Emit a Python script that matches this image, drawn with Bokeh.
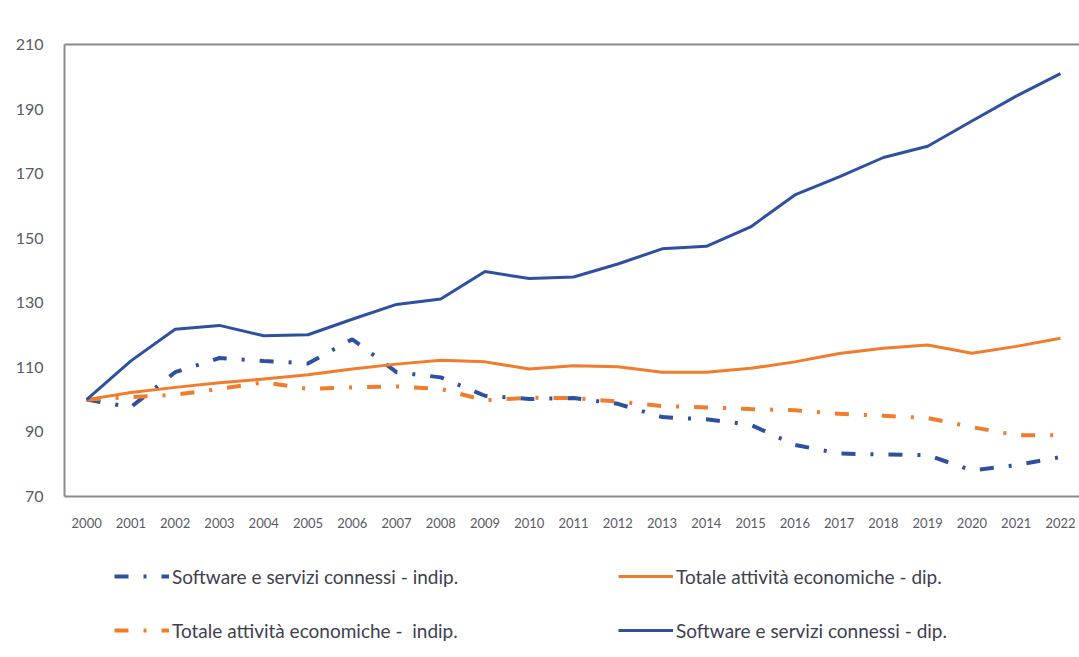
from bokeh.plotting import figure
from bokeh.models import Range1d, LinearAxis, Legend, LegendItem, FixedTicker
from bokeh.layouts import column
from bokeh.embed import file_html
from bokeh.resources import INLINE

years = list(range(2000, 2023))
sw_indip = [100, 97.7, 108.5, 112.9, 112, 111.2, 118.7, 108.5, 106.9, 101.2, 100.2, 100.5, 98.7,
            94.6, 93.9, 92.2, 86, 83.3, 83, 82.8, 78.1, 79.7, 82.2]
tot_indip = [100, 100.8, 101.5, 103.3, 105.4, 103.3, 103.8, 104.1, 103.3, 99.8, 100.6, 100.5, 99.4,
             98, 97.6, 97.1, 96.7, 95.6, 95, 94.3, 91.5, 89, 89]
tot_dip = [100, 102.2, 103.8, 105.2, 106.4, 107.7, 109.5, 111, 112.2, 111.7, 109.5, 110.5, 110.2,
           108.5, 108.5, 109.7, 111.7, 114.3, 115.9, 116.9, 114.4, 116.5, 119]
sw_dip = [100, 112, 121.8, 123, 119.8, 120.1, 124.9, 129.5, 131.2, 139.7, 137.5, 138, 142,
          146.7, 147.5, 153.5, 163.4, 169, 175, 178.5, 186.3, 194, 201]
y_ticks = [70, 90, 110, 130, 150, 170, 190, 210]
labels = ["Software e servizi connessi - indip.", "Totale attività economiche - dip.",
          "Totale attività economiche -  indip.", "Software e servizi connessi - dip."]

BLUE = "#2f50a0"
ORANGE = "#f07c2c"
GRAY = "#5a5a66"
DASH = "14 15 3 15"

p = figure(width=1079, height=530, output_backend="svg", toolbar_location=None,
           x_range=Range1d(1999.5, 2022.43), y_range=Range1d(70, 210),
           min_border_left=64, min_border_top=44, min_border_right=0, min_border_bottom=32)
p.outline_line_color = None
p.background_fill_color = "white"
p.border_fill_color = "white"
p.grid.grid_line_color = None

p.xaxis.ticker = FixedTicker(ticks=years)
p.yaxis.ticker = FixedTicker(ticks=y_ticks)
for ax in (p.xaxis[0], p.yaxis[0]):
    ax.axis_line_color = "#8c8c8c"
    ax.axis_line_width = 2
    ax.major_tick_line_color = None
    ax.minor_tick_line_color = None
    ax.major_label_text_color = GRAY
    ax.major_label_text_font = "Lato"
p.xaxis.major_label_text_font_size = "13px"
p.xaxis.major_label_standoff = 15
p.yaxis.major_label_text_font_size = "16px"
p.yaxis.major_label_standoff = 15

top = LinearAxis(ticker=FixedTicker(ticks=[]), axis_line_color="#8c8c8c", axis_line_width=2,
                 major_tick_line_color=None, minor_tick_line_color=None,
                 major_label_text_font_size="0px")
p.add_layout(top, "above")

p.line(years, sw_indip, line_color=BLUE, line_width=4, line_dash=DASH)
p.line(years, tot_dip, line_color=ORANGE, line_width=3)
p.line(years, tot_indip, line_color=ORANGE, line_width=4, line_dash=DASH)
p.line(years, sw_dip, line_color=BLUE, line_width=3)

# legend panel below the chart (same series styles, drawn outside its view)
lg = figure(width=1079, height=127, output_backend="svg", toolbar_location=None,
            x_range=Range1d(0, 1), y_range=Range1d(0, 1), x_axis_type=None, y_axis_type=None,
            min_border_left=0, min_border_right=0, min_border_top=0, min_border_bottom=0)
lg.outline_line_color = None
lg.grid.grid_line_color = None
lg.border_fill_color = "white"
l1 = lg.line(years, sw_indip, line_color=BLUE, line_width=4, line_dash=DASH)
l2 = lg.line(years, tot_dip, line_color=ORANGE, line_width=3)
l3 = lg.line(years, tot_indip, line_color=ORANGE, line_width=4, line_dash=DASH)
l4 = lg.line(years, sw_dip, line_color=BLUE, line_width=3)

legend = Legend(items=[LegendItem(label=labels[0], renderers=[l1]),
                       LegendItem(label=labels[1], renderers=[l2]),
                       LegendItem(label=labels[2], renderers=[l3]),
                       LegendItem(label=labels[3], renderers=[l4])],
                orientation="horizontal", ncols=2,
                location=(50, 7), border_line_color=None, background_fill_alpha=0,
                label_text_font="Lato", label_text_font_size="19px",
                label_text_color="#404050", glyph_width=55, glyph_height=40,
                label_width=432, label_standoff=3, spacing=14, padding=0, margin=0)
lg.add_layout(legend, "center")

layout = column(p, lg, spacing=0)
open("out.html", "w").write(file_html(layout, INLINE))
